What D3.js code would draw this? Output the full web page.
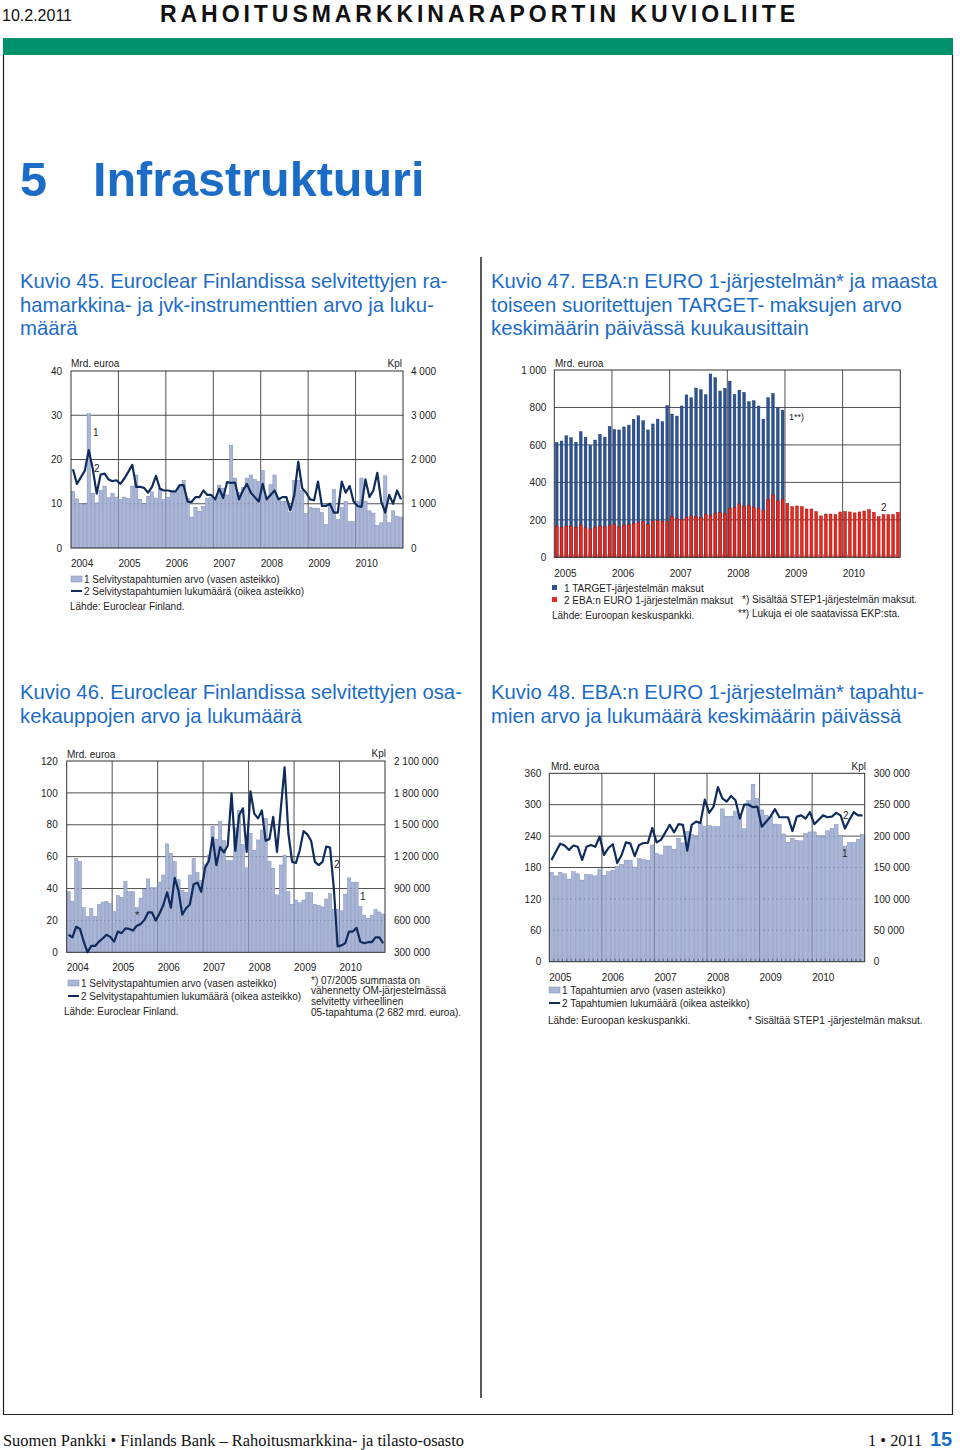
<!DOCTYPE html>
<html><head><meta charset="utf-8">
<script src="https://cdn.jsdelivr.net/npm/d3@7"></script>
<style>body{margin:0;background:#fff}</style>
</head><body>
<svg id="c" width="960" height="1450"></svg>
<script>
// ---------- DATA ----------
const years45 = ["2004","2005","2006","2007","2008","2009","2010"];
const ticks45Left = [0,10,20,30,40];
const ticks45Right = [0,1000,2000,3000,4000];
const value45 = [ // Mrd. euroa, monthly 2004-2010
12.8,11.1,10.0,9.9,30.4,12.4,10.2,13.0,14.0,11.4,12.3,11.5,
11.0,11.5,11.2,14.0,16.5,11.0,10.0,11.7,12.7,11.3,13.5,11.0,
11.5,12.5,12.5,14.0,15.3,11.3,7.0,9.2,8.3,9.4,11.2,11.5,
11.4,14.2,13.5,12.0,23.2,15.8,12.5,13.7,15.8,16.5,15.5,15.0,
17.5,11.5,14.3,16.5,11.3,10.6,10.5,8.0,15.3,15.3,13.0,7.8,
9.2,9.0,9.0,8.0,5.3,9.7,13.3,6.4,9.1,10.5,6.0,6.0,
10.5,15.8,10.6,8.4,7.9,5.1,5.7,16.3,5.7,8.4,7.2,7.0];
const count45 = [ // Kpl
1780,1450,1600,1750,2210,1790,1230,1660,1680,1550,1510,1530,
1450,1570,1720,1880,1380,1380,1360,1250,1380,1630,1340,1300,
1300,1280,1280,1420,1420,1050,1040,1150,1150,1300,1200,1200,
1100,1340,1130,1490,1470,1480,1100,1300,1450,1250,1150,1050,
1450,1100,1200,1300,1100,1150,1150,850,1200,1950,1350,1250,
1100,1080,1500,950,950,1000,800,800,1500,1250,1400,1050,
950,930,1550,1150,1300,1700,1050,800,1200,1000,1300,1100];

const years47 = ["2005","2006","2007","2008","2009","2010"];
const ticks47 = [0,200,400,600,800,1000];
const target47 = [ // TARGET, Mrd. euroa, 2005-2008
614,621,649,639,614,671,641,598,626,657,642,699,
683,680,696,706,737,756,730,680,712,738,724,811,
765,754,808,867,852,904,895,868,979,959,888,902,
941,870,893,881,831,836,808,738,852,875,799,786];
const eba47 = [ // EBA EURO 1, Mrd. euroa, 2005-2010
167,160,167,167,160,173,160,151,160,167,163,169,
176,163,172,174,181,187,192,176,194,195,192,192,
219,205,200,215,221,217,213,231,222,236,240,234,
262,266,285,271,276,268,262,251,310,333,301,311,
288,270,274,270,258,258,244,221,231,231,228,242,
244,242,237,242,247,254,240,217,228,228,228,240];

const years46 = ["2004","2005","2006","2007","2008","2009","2010"];
const ticks46Left = [0,20,40,60,80,100,120];
const ticks46Right = [300000,600000,900000,1200000,1500000,1800000,2100000];
const value46 = [
38,32,59,57,28,22.5,27.5,22.5,30,31.5,32,30.5,
25.5,35.5,34.5,44.5,38,38,28,34,39.5,46,40.5,40.5,
44,48.5,68,62,57,45.5,39,37.5,48.5,59,50,45,
55,61,79,71,82,70,57.5,57.5,78,89,67.5,53,
74.6,64,70.5,76.7,84,57,52.7,36,54.8,61,38,30,
32.8,31,32.8,37.4,37.4,30,29.5,28.5,33.4,36.8,27,27,
26,36.5,46.7,44,44,28.7,23.3,21.3,23.3,26.7,25.3,24];
const count46 = [
465000,440000,540000,520000,400000,300000,360000,360000,400000,430000,465000,445000,
400000,495000,480000,525000,520000,505000,550000,565000,605000,675000,675000,600000,
665000,745000,865000,720000,1000000,880000,655000,715000,750000,940000,955000,870000,
1095000,1160000,1380000,1120000,1290000,1240000,1305000,1795000,1255000,1590000,1655000,1245000,
1815000,1605000,1560000,1635000,1350000,1365000,1575000,1245000,1650000,2040000,1420000,1150000,
1140000,1260000,1440000,1410000,1350000,1150000,1120000,1150000,1295000,1285000,900000,355000,
365000,385000,495000,495000,530000,400000,385000,395000,395000,440000,440000,385000];

const years48 = ["2005","2006","2007","2008","2009","2010"];
const ticks48Left = [0,60,120,180,240,300,360];
const ticks48Right = [0,50000,100000,150000,200000,250000,300000];
const value48 = [
171,164,171,168,158,172,168,156,167,166,164,177,
165,172,175,182,186,194,194,181,197,195,194,223,
207,204,221,221,215,236,227,249,243,238,265,258,
260,258,258,292,278,278,287,277,254,308,339,312,
290,280,277,263,262,244,228,236,232,231,245,248,
248,240,240,250,255,262,241,221,228,228,234,243];
const count48 = [
162000,175000,188000,185000,178000,185000,183000,162000,183000,186000,183000,199000,
170000,181000,187000,157000,170000,190000,188000,168000,186000,189000,189000,213000,
190000,194000,206000,218000,206000,219000,218000,177000,218000,223000,221000,258000,
237000,247000,278000,260000,255000,264000,257000,228000,250000,250000,246000,247000,
215000,223000,231000,243000,230000,230000,230000,208000,231000,233000,228000,238000,
219000,226000,233000,230000,231000,237000,233000,212000,226000,238000,233000,233000];

// ---------- STYLE ----------
const FONT = "'Liberation Sans', Arial, sans-serif";
const SERIF = "'Liberation Serif', 'Times New Roman', serif";
const BLUE_T = "#1b6cc6";
const BAR = "#aab6d6", BAR_S = "#7f8dba", LINE = "#0f2c5c", GRID = "#3c3c3c";
const fmt = d3.formatLocale({decimal:",", thousands:"\u00a0", grouping:[3], currency:["",""]}).format(",");
const svg = d3.select("#c").attr("font-family", FONT);

function text(x, y, s, o = {}) {
  const t = svg.append("text").attr("x", x).attr("y", y).text(s)
    .attr("font-size", o.size || 10).attr("fill", o.fill || "#222")
    .attr("text-anchor", o.anchor || "start");
  if (o.weight) t.attr("font-weight", o.weight);
  if (o.family) t.attr("font-family", o.family);
  if (o.len) t.attr("textLength", o.len).attr("lengthAdjust", "spacing");
  return t;
}

// ---------- PAGE ----------
text(2, 21, "10.2.2011", {size: 16, fill: "#111"});
text(160, 22, "RAHOITUSMARKKINARAPORTIN KUVIOLIITE", {size: 23, weight: "bold", fill: "#111", len: 635});
svg.append("rect").attr("x", 3).attr("y", 38).attr("width", 950).attr("height", 17).attr("fill", "#00926a");
svg.append("path").attr("d", "M3.5,55 V1414.5 H952.5 V55").attr("fill", "none").attr("stroke", "#222").attr("stroke-width", 1.2);
svg.append("line").attr("x1", 481).attr("x2", 481).attr("y1", 257).attr("y2", 1398).attr("stroke", "#222").attr("stroke-width", 1.5);

text(20, 196, "5", {size: 48.5, weight: "bold", fill: BLUE_T});
text(93, 196, "Infrastruktuuri", {size: 48.5, weight: "bold", fill: BLUE_T});

[["Kuvio 45. Euroclear Finlandissa selvitettyjen ra-", 20, 288],
 ["hamarkkina- ja jvk-instrumenttien arvo ja luku-", 20, 312],
 ["määrä", 20, 335],
 ["Kuvio 47. EBA:n EURO 1-järjestelmän* ja maasta", 491, 288],
 ["toiseen suoritettujen TARGET- maksujen arvo", 491, 312],
 ["keskimäärin päivässä kuukausittain", 491, 335],
 ["Kuvio 46. Euroclear Finlandissa selvitettyjen osa-", 20, 699],
 ["kekauppojen arvo ja lukumäärä", 20, 723],
 ["Kuvio 48. EBA:n EURO 1-järjestelmän* tapahtu-", 491, 699],
 ["mien arvo ja lukumäärä keskimäärin päivässä", 491, 723]
].forEach(([s, x, y]) => text(x, y, s, {size: 20.3, fill: BLUE_T}));

text(3, 1446, "Suomen Pankki \u2022 Finlands Bank \u2013 Rahoitusmarkkina- ja tilasto-osasto", {size: 16.4, fill: "#111", family: SERIF});
text(868, 1446, "1 \u2022 2011", {size: 16.4, fill: "#111", family: SERIF});
text(930, 1446, "15", {size: 20, weight: "bold", fill: BLUE_T});

// ---------- CHART HELPER ----------
function frame(o) {
  const g = svg.append("g");
  const xb = d3.scaleBand().domain(d3.range(o.n)).range([o.x0, o.x1]).paddingInner(o.pad).paddingOuter(o.pad / 2);
  const xm = d3.scaleLinear().domain([0, o.n]).range([o.x0, o.x1]);
  const yL = d3.scaleLinear().domain(o.lDom).range([o.yB, o.yT]);
  const yR = o.rDom ? d3.scaleLinear().domain(o.rDom).range([o.yB, o.yT]) : null;
  const grid = g.append("g");
  grid.selectAll("line.h").data(o.lTicks.slice(1, -1)).join("line").attr("class", "h")
    .attr("x1", o.x0).attr("x2", o.x1).attr("y1", d => yL(d)).attr("y2", d => yL(d))
    .attr("stroke", GRID).attr("stroke-width", 0.9);
  grid.selectAll("line.v").data(o.years.map((d, i) => i * 12).slice(1)).join("line").attr("class", "v")
    .attr("x1", d => xm(d)).attr("x2", d => xm(d)).attr("y1", o.yT).attr("y2", o.yB)
    .attr("stroke", GRID).attr("stroke-width", 0.9);
  const axL = g.append("g").attr("transform", `translate(${o.x0},0)`)
    .call(d3.axisLeft(yL).tickValues(o.lTicks).tickSize(0).tickPadding(o.lPad).tickFormat(fmt));
  axL.select(".domain").remove();
  axL.attr("font-family", FONT).attr("font-size", 10);
  axL.selectAll("text").attr("fill", "#222");
  if (yR) {
    const axR = g.append("g").attr("transform", `translate(${o.x1},0)`)
      .call(d3.axisRight(yR).tickValues(o.rTicks).tickSize(0).tickPadding(o.rPad).tickFormat(fmt));
    axR.select(".domain").remove();
    axR.attr("font-family", FONT).attr("font-size", 10);
    axR.selectAll("text").attr("fill", "#222");
  }
  g.selectAll("text.yr").data(o.years).join("text").attr("class", "yr")
    .attr("x", (d, i) => xm(i * 12)).attr("y", o.yearY).text(d => d)
    .attr("font-size", 10).attr("fill", "#222");
  return {g, xb, xm, yL, yR};
}
function border(f, o) {
  f.g.append("rect").attr("x", o.x0).attr("y", o.yT).attr("width", o.x1 - o.x0).attr("height", o.yB - o.yT)
    .attr("fill", "none").attr("stroke", "#333").attr("stroke-width", 1);
}
function barsAndLine(f, o, vals, cnt) {
  f.g.append("g").selectAll("rect").data(vals).join("rect")
    .attr("x", (d, i) => f.xb(i)).attr("width", f.xb.bandwidth())
    .attr("y", d => f.yL(d)).attr("height", d => f.yL(0) - f.yL(d))
    .attr("fill", BAR).attr("stroke", BAR_S).attr("stroke-width", 0.5);
  border(f, o);
  f.g.append("path").datum(cnt)
    .attr("d", d3.line().x((d, i) => f.xb(i) + f.xb.bandwidth() / 2).y(d => f.yR(d)))
    .attr("fill", "none").attr("stroke", LINE).attr("stroke-width", 2.2).attr("stroke-linejoin", "round");
}
function legendBL(x, y1, y2, t1, t2) {
  svg.append("rect").attr("x", x).attr("y", y1 - 3).attr("width", 11).attr("height", 6)
    .attr("fill", BAR).attr("stroke", BAR_S).attr("stroke-width", 0.5);
  text(x + 13, y1 + 3.5, t1);
  svg.append("line").attr("x1", x).attr("x2", x + 11).attr("y1", y2).attr("y2", y2).attr("stroke", LINE).attr("stroke-width", 2);
  text(x + 13, y2 + 3.5, t2);
}

// ---------- KUVIO 45 ----------
const o45 = {n: 84, x0: 71, x1: 403, yT: 371, yB: 548, pad: 0.15, lDom: [0, 40], rDom: [0, 4000],
  lTicks: ticks45Left, rTicks: ticks45Right, lPad: 9, rPad: 8, years: years45, yearY: 567};
const f45 = frame(o45);
barsAndLine(f45, o45, value45, count45);
text(71, 367, "Mrd. euroa");
text(402, 367, "Kpl", {anchor: "end"});
text(93, 436, "1", {size: 10});
text(94, 472, "2", {size: 10});
legendBL(71, 579, 591, "1 Selvitystapahtumien arvo (vasen asteikko)", "2 Selvitystapahtumien lukumäärä (oikea asteikko)");
text(70, 610, "Lähde: Euroclear Finland.");

// ---------- KUVIO 47 ----------
const o47 = {n: 72, x0: 554.3, x1: 900.3, yT: 370, yB: 557.3, pad: 0.42, lDom: [0, 1000],
  lTicks: ticks47, lPad: 8, years: years47, yearY: 577};
const f47 = frame(o47);
f47.g.append("g").selectAll("rect").data(target47).join("rect")
  .attr("x", (d, i) => f47.xb(i)).attr("width", f47.xb.bandwidth())
  .attr("y", d => f47.yL(d)).attr("height", d => f47.yL(0) - f47.yL(d))
  .attr("fill", "#2d5290").attr("stroke", "#1f3c6e").attr("stroke-width", 0.4);
f47.g.append("g").selectAll("rect").data(eba47).join("rect")
  .attr("x", (d, i) => f47.xb(i)).attr("width", f47.xb.bandwidth())
  .attr("y", d => f47.yL(d)).attr("height", d => f47.yL(0) - f47.yL(d))
  .attr("fill", "#e8291f").attr("stroke", "#a3120c").attr("stroke-width", 0.5);
border(f47, o47);
f47.g.append("g").selectAll("line").data(d3.range(1, 72)).join("line")
  .attr("x1", d => f47.xm(d)).attr("x2", d => f47.xm(d)).attr("y1", o47.yB).attr("y2", o47.yB - 3)
  .attr("stroke", "#333").attr("stroke-width", 0.6);
text(555, 367, "Mrd. euroa");
text(789, 420, "1**)", {size: 9});
text(881, 511, "2", {size: 10});
svg.append("rect").attr("x", 552).attr("y", 585).attr("width", 5).attr("height", 5).attr("fill", "#2d5290");
text(564, 591.5, "1 TARGET-järjestelmän maksut");
svg.append("rect").attr("x", 552).attr("y", 597).attr("width", 5).attr("height", 5).attr("fill", "#e8291f");
text(564, 603.5, "2 EBA:n EURO 1-järjestelmän maksut");
text(742, 602.5, "*) Sisältää STEP1-järjestelmän maksut.");
text(552, 618.5, "Lähde: Euroopan keskuspankki.");
text(738, 616.5, "**) Lukuja ei ole saatavissa EKP:sta.");

// ---------- KUVIO 46 ----------
const o46 = {n: 84, x0: 66.7, x1: 385, yT: 761, yB: 952.3, pad: 0.15, lDom: [0, 120], rDom: [300000, 2100000],
  lTicks: ticks46Left, rTicks: ticks46Right, lPad: 9, rPad: 9, years: years46, yearY: 971};
const f46 = frame(o46);
barsAndLine(f46, o46, value46, count46);
text(67, 758, "Mrd. euroa");
text(386, 757, "Kpl", {anchor: "end"});
text(135, 919, "*", {size: 11});
text(334, 868, "2", {size: 10});
text(360, 900, "1", {size: 10});
legendBL(68, 983, 996, "1 Selvitystapahtumien arvo (vasen asteikko)", "2 Selvitystapahtumien lukumäärä (oikea asteikko)");
text(64, 1015, "Lähde: Euroclear Finland.");
[["*) 07/2005 summasta on", 983.5], ["vähennetty OM-järjestelmässä", 994], ["selvitetty virheellinen", 1004.5], ["05-tapahtuma (2 682 mrd. euroa).", 1015.5]]
  .forEach(([s, y]) => text(311, y, s));

// ---------- KUVIO 48 ----------
const o48 = {n: 72, x0: 549.3, x1: 864.7, yT: 773.3, yB: 961.7, pad: 0.15, lDom: [0, 360], rDom: [0, 300000],
  lTicks: ticks48Left, rTicks: ticks48Right, lPad: 8, rPad: 9, years: years48, yearY: 981};
const f48 = frame(o48);
barsAndLine(f48, o48, value48, count48);
f48.g.append("g").selectAll("line").data(d3.range(1, 72)).join("line")
  .attr("x1", d => f48.xm(d)).attr("x2", d => f48.xm(d)).attr("y1", o48.yB).attr("y2", o48.yB - 3)
  .attr("stroke", "#333").attr("stroke-width", 0.6);
text(551, 770, "Mrd. euroa");
text(866, 770, "Kpl", {anchor: "end"});
text(843, 819, "2", {size: 10});
text(842, 857, "1", {size: 10});
legendBL(549, 990, 1003, "1 Tapahtumien arvo (vasen asteikko)", "2 Tapahtumien lukumäärä (oikea asteikko)");
text(548, 1023.5, "Lähde: Euroopan keskuspankki.");
text(748, 1023.5, "* Sisältää STEP1 -järjestelmän maksut.");
</script>
</body></html>
